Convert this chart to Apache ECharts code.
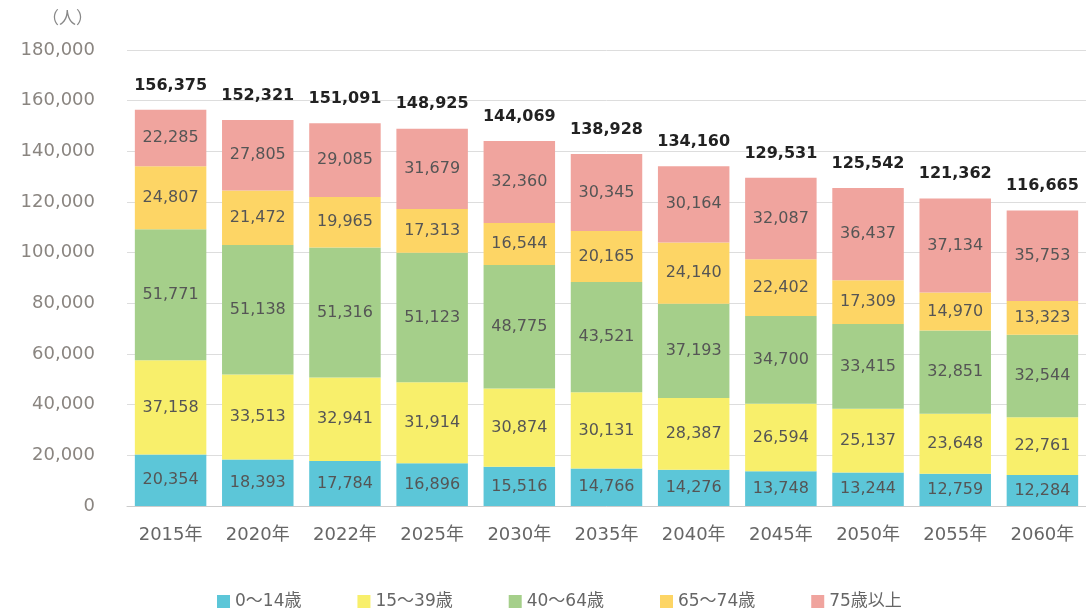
<!DOCTYPE html>
<html><head><meta charset="utf-8">
<script src="https://cdn.jsdelivr.net/npm/echarts@6/dist/echarts.min.js"></script>
<style>html,body{margin:0;padding:0;background:#fff}#c{width:1086px;height:610px}</style>
</head><body><div id="c"></div>
<script>
const categories = ['2015年','2020年','2022年','2025年','2030年','2035年','2040年','2045年','2050年','2055年','2060年'];
const age0_14  = [20354,18393,17784,16896,15516,14766,14276,13748,13244,12759,12284];
const age15_39 = [37158,33513,32941,31914,30874,30131,28387,26594,25137,23648,22761];
const age40_64 = [51771,51138,51316,51123,48775,43521,37193,34700,33415,32851,32544];
const age65_74 = [24807,21472,19965,17313,16544,20165,24140,22402,17309,14970,13323];
const age75    = [22285,27805,29085,31679,32360,30345,30164,32087,36437,37134,35753];
const totals   = [156375,152321,151091,148925,144069,138928,134160,129531,125542,121362,116665];
const seriesNames = ['0～14歳','15～39歳','40～64歳','65～74歳','75歳以上'];
const yTicks = {min:0, max:180000, interval:20000};

const colors = ['#5cc6d8','#f8ef6b','#a5cf8a','#fdd565','#f0a49e'];
const font = '"DejaVu Sans", "Noto Sans CJK JP", sans-serif';
const fmt = v => Number(v).toLocaleString('en-US');
const dataSets = [age0_14, age15_39, age40_64, age65_74, age75];

const chart = echarts.init(document.getElementById('c'));
const series = dataSets.map((d,i)=>({
  name: seriesNames[i], type:'bar', stack:'total', data:d, barWidth:'82%',
  itemStyle:{color:colors[i]},
  label:{show:true, position:'inside', color:'#555', fontSize:16, fontFamily:font, formatter:p=>fmt(p.value)},
  z:2
}));
series.push({
  name:'合計', type:'line', data:totals, symbol:'circle', symbolSize:1, silent:true,
  lineStyle:{opacity:0}, itemStyle:{color:'rgba(0,0,0,0)'},
  label:{show:true, position:'top', distance:16, color:'#222', fontWeight:'bold', fontSize:16, fontFamily:font, formatter:p=>fmt(p.value)},
  z:5
});
chart.setOption({
  animation:false,
  textStyle:{fontFamily:font},
  grid:{left:127, top:50, width:962, bottom:104, containLabel:false},
  legend:{data:seriesNames, bottom:-5, left:212, itemWidth:13, itemHeight:13, itemGap:56, icon:'rect',
    textStyle:{color:'#666', fontSize:17, fontFamily:font}},
  xAxis:{type:'category', data:categories, axisTick:{show:false},
    axisLine:{lineStyle:{color:'#ccc'}},
    axisLabel:{color:'#666', fontSize:18, margin:20, fontFamily:font}},
  yAxis:{type:'value', min:yTicks.min, max:yTicks.max, interval:yTicks.interval,
    name:'（人）', nameLocation:'end', nameGap:22, nameTextStyle:{color:'#888', fontSize:17, align:'right', padding:[0,34,0,0], fontFamily:font},
    axisLabel:{color:'#8a8580', fontSize:18, margin:32, fontFamily:font, formatter:v=>fmt(v)},
    splitLine:{lineStyle:{color:'#ddd'}}},
  series
});
</script></body></html>
